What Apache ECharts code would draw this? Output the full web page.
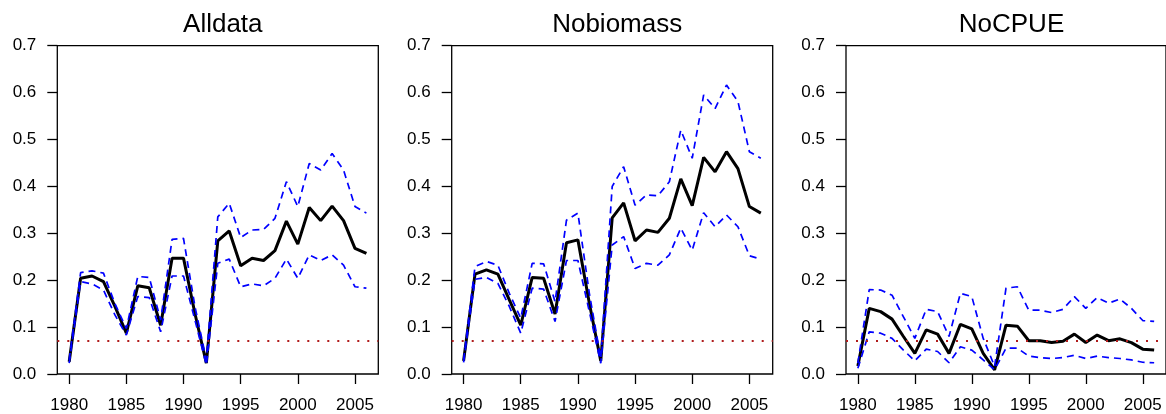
<!DOCTYPE html>
<html>
<head>
<meta charset="utf-8">
<script src="https://cdn.jsdelivr.net/npm/echarts@6/dist/echarts.min.js"></script>
<style>
html,body{margin:0;padding:0;background:#fff;}
#c{width:1166px;height:414px;}
</style>
</head>
<body>
<div id="c"></div>
<script>
const years = [1980,1981,1982,1983,1984,1985,1986,1987,1988,1989,1990,1991,1992,1993,1994,1995,1996,1997,1998,1999,2000,2001,2002,2003,2004,2005,2006];
const xTicks = [1980,1985,1990,1995,2000,2005];
const yTicks = [0,0.1,0.2,0.3,0.4,0.5,0.6,0.7];
const panelTitles = ["Alldata","Nobiomass","NoCPUE"];
const refLevel = 0.065;

const alldataMid = [0.026,0.204,0.209,0.197,0.144,0.087,0.188,0.184,0.104,0.247,0.247,0.129,0.023,0.284,0.305,0.231,0.247,0.242,0.263,0.326,0.277,0.355,0.327,0.358,0.327,0.268,0.257];
const alldataUp  = [0.030,0.216,0.220,0.215,0.150,0.097,0.208,0.206,0.115,0.287,0.289,0.144,0.030,0.335,0.364,0.291,0.307,0.308,0.332,0.410,0.357,0.449,0.435,0.470,0.435,0.357,0.343];
const alldataLo  = [0.023,0.197,0.192,0.179,0.126,0.083,0.165,0.163,0.090,0.209,0.209,0.115,0.019,0.236,0.245,0.186,0.192,0.188,0.204,0.245,0.204,0.254,0.242,0.254,0.232,0.186,0.183];

const nobioMid = [0.028,0.213,0.222,0.213,0.158,0.104,0.206,0.204,0.128,0.280,0.286,0.151,0.028,0.333,0.365,0.284,0.307,0.302,0.332,0.416,0.359,0.462,0.431,0.474,0.438,0.357,0.343];
const nobioUp  = [0.030,0.229,0.240,0.232,0.172,0.119,0.236,0.235,0.154,0.328,0.343,0.172,0.033,0.400,0.442,0.360,0.382,0.380,0.410,0.520,0.460,0.595,0.566,0.616,0.581,0.474,0.460];
const nobioLo  = [0.025,0.202,0.206,0.193,0.144,0.087,0.183,0.181,0.112,0.242,0.242,0.133,0.023,0.275,0.293,0.225,0.236,0.232,0.254,0.311,0.264,0.344,0.314,0.339,0.314,0.252,0.245];

const nocpueMid = [0.017,0.140,0.133,0.117,0.080,0.044,0.094,0.085,0.044,0.106,0.096,0.044,0.009,0.104,0.102,0.071,0.071,0.067,0.070,0.085,0.067,0.083,0.071,0.075,0.067,0.053,0.051];
const nocpueUp  = [0.023,0.180,0.179,0.168,0.122,0.076,0.138,0.133,0.080,0.172,0.165,0.076,0.016,0.183,0.186,0.136,0.136,0.131,0.138,0.165,0.140,0.163,0.151,0.160,0.140,0.114,0.112];
const nocpueLo  = [0.012,0.090,0.087,0.076,0.051,0.028,0.053,0.048,0.024,0.058,0.051,0.030,0.009,0.055,0.055,0.038,0.035,0.033,0.035,0.040,0.033,0.038,0.035,0.033,0.030,0.025,0.024];

const panels = [
  {mid: alldataMid, up: alldataUp, lo: alldataLo},
  {mid: nobioMid, up: nobioUp, lo: nobioLo},
  {mid: nocpueMid, up: nocpueUp, lo: nocpueLo}
];

const FONT = '"Liberation Sans", Arial, Helvetica, sans-serif';
const gridLefts = [57.3, 451.7, 846];
const gridW = 321;
const gridTop = 45.7;
const gridH = 329;

const xPad = (years[years.length-1]-years[0])*0.04;
const grids = [], xAxes = [], yAxes = [], titles = [], series = [];
const pairs = d => years.map((y,i)=>[y,d[i]]);

panels.forEach((p, k) => {
  grids.push({left: gridLefts[k], top: gridTop, width: gridW, height: gridH,
    show: true, borderColor: '#000', borderWidth: 1.3, backgroundColor: 'transparent'});
  titles.push({text: panelTitles[k], left: gridLefts[k] + gridW/2, top: 7,
    textAlign: 'center',
    textStyle: {fontFamily: FONT, fontSize: 26, fontWeight: 'normal', color: '#000'}});
  xAxes.push({type: 'value', gridIndex: k, min: years[0]-xPad, max: years[years.length-1]+xPad,
    axisLine: {show: false}, splitLine: {show: false},
    axisTick: {show: true, length: 10, customValues: xTicks, lineStyle: {color: '#000', width: 1.3}},
    axisLabel: {show: true, customValues: xTicks, margin: 23, fontFamily: FONT, fontSize: 17, color: '#000',
      formatter: v => String(Math.round(v))}});
  yAxes.push({type: 'value', gridIndex: k, min: yTicks[0], max: yTicks[yTicks.length-1], interval: 0.1,
    axisLine: {show: false}, splitLine: {show: false},
    axisTick: {show: true, length: 10, lineStyle: {color: '#000', width: 1.3}},
    axisLabel: {show: true, margin: 21, fontFamily: FONT, fontSize: 17, color: '#000',
      formatter: v => v.toFixed(1)}});
  series.push({type: 'line', xAxisIndex: k, yAxisIndex: k, data: pairs(p.mid), symbol: 'none',
    lineStyle: {color: '#000', width: 3}, z: 2, silent: true});
  series.push({type: 'line', xAxisIndex: k, yAxisIndex: k, data: pairs(p.up), symbol: 'none',
    lineStyle: {color: '#0000ff', width: 1.7, type: [7,5]}, z: 3, silent: true});
  series.push({type: 'line', xAxisIndex: k, yAxisIndex: k, data: pairs(p.lo), symbol: 'none',
    lineStyle: {color: '#0000ff', width: 1.7, type: [7,5]}, z: 3, silent: true,
    markLine: {silent: true, symbol: ['none','none'], label: {show: false},
      lineStyle: {color: '#b01c1c', width: 2, type: [2,8]},
      data: [{yAxis: refLevel}]}});
});

const chart = echarts.init(document.getElementById('c'), null, {renderer: 'canvas'});
chart.setOption({
  animation: false,
  backgroundColor: '#fff',
  title: titles,
  grid: grids,
  xAxis: xAxes,
  yAxis: yAxes,
  series: series
});
</script>
</body>
</html>
